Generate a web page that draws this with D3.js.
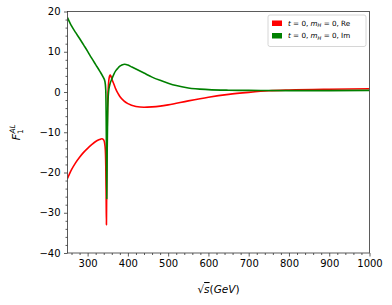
<!DOCTYPE html>
<html><head><meta charset="utf-8">
<script src="https://cdn.jsdelivr.net/npm/d3@7"></script>
<style>body{margin:0;background:#fff;} svg{display:block;font-family:"DejaVu Sans",sans-serif;}</style>
</head><body><svg id="c" width="392" height="305"></svg>
<script>
const reS = [250,260,270,280,290,300,310,320,330,335,340,342,344,345,346,346.7,347.5,348.5,350,352,354,356,358,361,365,370,375,380,390,400,420,440,460,480,500,550,600,650,700,750,800,900,1000];
const reVals = [-21.5,-19.3,-17.6,-16.2,-15.0,-14.0,-13.1,-12.3,-11.8,-11.6,-11.9,-12.6,-14.5,-18,-26,-33,-22,-10,-2,2.2,3.8,4.2,3.9,3.0,2.0,0.7,-0.3,-1.1,-2.2,-2.9,-3.6,-3.8,-3.7,-3.5,-3.2,-2.2,-1.3,-0.6,-0.1,0.3,0.5,0.7,0.8];
const imS = [250,260,270,280,290,300,310,320,330,338,343,345,346,346.7,347.5,348.5,350,352,355,360,365,370,375,380,385,392,400,410,420,440,460,480,500,520,550,600,650,700,800,900,1000];
const imVals = [18.5,16.4,14.8,13.3,11.7,10.1,8.4,6.8,5.2,3.8,2.6,0.5,-6,-15,-26.5,-15,-4,0,1.8,3.2,4.4,5.3,5.9,6.4,6.7,6.9,6.7,6.2,5.7,4.7,3.7,2.9,2.2,1.6,1.0,0.6,0.45,0.4,0.35,0.35,0.4];
const xTicks = [300,400,500,600,700,800,900,1000];
const yTicks = [-40,-30,-20,-10,0,10,20];
const seriesNames = ["Re","Im"];
const seriesColors = ["#ff0000","#008000"];

const svg = d3.select("#c");
const L=67.5, R=369.5, T=11.5, B=253;
const x = d3.scaleLinear().domain([250,1000]).range([L,R]);
const y = d3.scaleLinear().domain([-40,20]).range([B,T]);

const g = svg.append("g");
const line = d3.line().x(d=>x(d[0])).y(d=>y(d[1])).curve(d3.curveMonotoneX);
svg.append("clipPath").attr("id","pc").append("rect").attr("x",L).attr("y",T).attr("width",R-L).attr("height",B-T);
[[reS,reVals],[imS,imVals]].forEach(([xs,vals],i)=>{
  g.append("path").datum(xs.map((s,j)=>[s,vals[j]]))
    .attr("d",line).attr("fill","none").attr("stroke",seriesColors[i])
    .attr("stroke-width",1.6).attr("stroke-linejoin","round").attr("clip-path","url(#pc)");
});

// axes
const fmt = d => (d<0? "\u2212"+Math.abs(d) : String(d));
const xAxis = svg.append("g").attr("transform",`translate(0,${B})`)
  .call(d3.axisBottom(x).tickValues(xTicks).tickFormat(fmt).tickSize(3.5).tickPadding(3.5));
const xMinor = svg.append("g").attr("transform",`translate(0,${B})`)
  .call(d3.axisBottom(x).tickValues(d3.range(260,1000,20).filter(v=>v%100!==0)).tickFormat("").tickSize(2));
const yAxis = svg.append("g").attr("transform",`translate(${L},0)`)
  .call(d3.axisLeft(y).tickValues(yTicks).tickFormat(fmt).tickSize(3.5).tickPadding(3.5));
const yMinor = svg.append("g").attr("transform",`translate(${L},0)`)
  .call(d3.axisLeft(y).tickValues(d3.range(-38,20,2).filter(v=>v%10!==0)).tickFormat("").tickSize(2));
[xAxis,xMinor,yAxis,yMinor].forEach(a=>{
  a.select(".domain").remove();
  a.selectAll("line").attr("stroke","#333").attr("stroke-width",0.8);
  a.selectAll("text").attr("font-size",10).attr("fill","#000").attr("font-family","DejaVu Sans");
});
svg.append("rect").attr("x",L).attr("y",T).attr("width",R-L).attr("height",B-T)
  .attr("fill","none").attr("stroke","#333").attr("stroke-width",0.8);

// x label
const xl = svg.append("text").attr("x",(L+R)/2).attr("y",293).attr("text-anchor","middle")
  .attr("font-size",10.5).attr("fill","#000");
xl.append("tspan").text("\u221A");
xl.append("tspan").attr("font-style","italic").attr("text-decoration","overline").text("s");
xl.append("tspan").text("(");
xl.append("tspan").attr("font-style","italic").text("GeV");
xl.append("tspan").text(")");

// y label
const yl = svg.append("text").attr("transform",`translate(20,${(T+B)/2}) rotate(-90)`)
  .attr("text-anchor","middle").attr("font-size",11).attr("fill","#000");
yl.append("tspan").attr("font-style","italic").text("F");
yl.append("tspan").attr("font-size",7.5).attr("dy",3).text("1");
yl.append("tspan").attr("font-size",7.5).attr("font-style","italic").attr("dx",-4.5).attr("dy",-8).text("AL");

// legend
const lg = svg.append("g");
lg.append("rect").attr("x",268).attr("y",15).attr("width",98).attr("height",31.5).attr("rx",2)
  .attr("fill","#fff").attr("fill-opacity",0.8).attr("stroke","#ccc").attr("stroke-width",0.8);
seriesNames.forEach((nm,i)=>{
  const yy = 23.3 + i*12.5;
  lg.append("rect").attr("x",272).attr("y",yy-2.8).attr("width",10).attr("height",5.5).attr("fill",seriesColors[i]);
  const t = lg.append("text").attr("x",288).attr("y",yy+2.6).attr("font-size",7.2).attr("fill","#000");
  t.append("tspan").attr("font-style","italic").text("t");
  t.append("tspan").text(" = 0, ");
  t.append("tspan").attr("font-style","italic").text("m");
  t.append("tspan").attr("font-style","italic").attr("font-size",5).attr("dy",1.5).text("H");
  t.append("tspan").attr("dy",-1.5).text(" = 0, "+nm);
});
</script></body></html>
